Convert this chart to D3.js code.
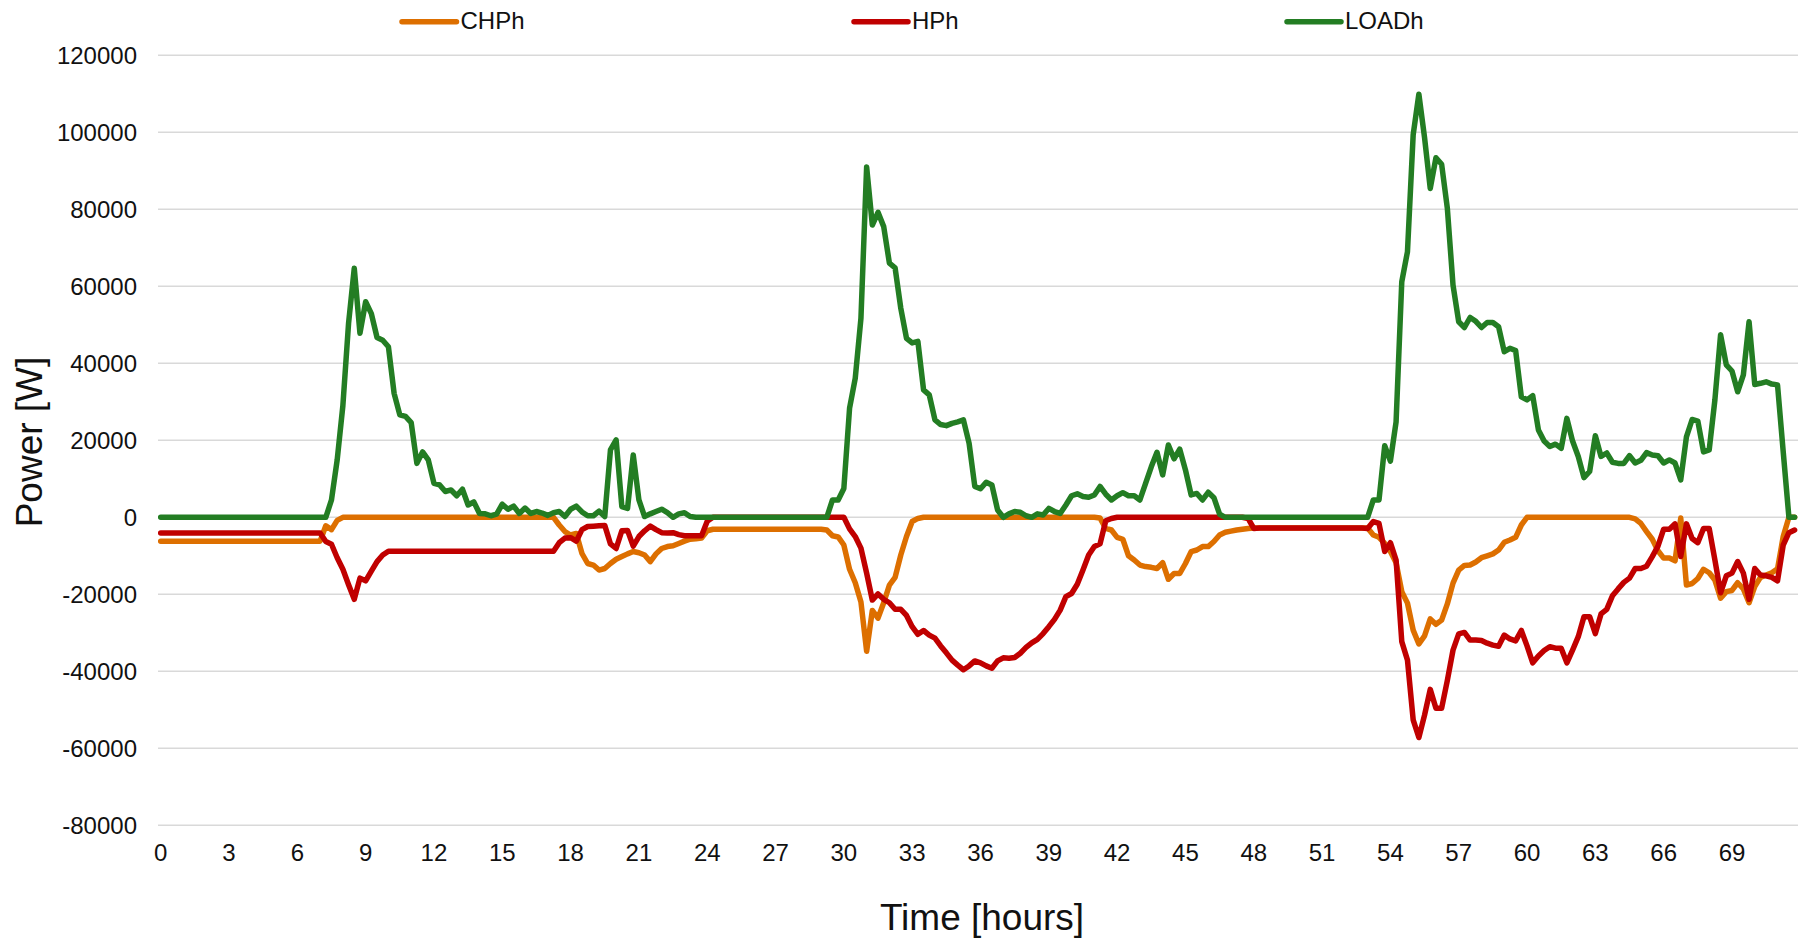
<!DOCTYPE html>
<html>
<head>
<meta charset="utf-8">
<script src="https://cdn.jsdelivr.net/npm/d3@7"></script>
<style>
  html, body { margin: 0; padding: 0; background: #ffffff; }
  svg { display: block; font-family: "Liberation Sans", Arial, sans-serif; }
</style>
</head>
<body>
<svg id="chart" width="1806" height="940"></svg>
<script>
// Quarter-hour time steps over three days (0 .. 71.75 h)
const hours = d3.range(0, 72, 0.25);

// Axis tick labels
const xTicks = [0, 3, 6, 9, 12, 15, 18, 21, 24, 27, 30, 33, 36, 39, 42, 45, 48, 51, 54, 57, 60, 63, 66, 69];
const yTicks = [120000, 100000, 80000, 60000, 40000, 20000, 0, -20000, -40000, -60000, -80000];

// Series names
const seriesNames = ["CHPh", "HPh", "LOADh"];

// CHP heat power [W], one row = 3 hours (12 quarter-hours)
const chph = [
  -6200, -6200, -6200, -6200, -6200, -6200, -6200, -6200, -6200, -6200, -6200, -6200,
  -6200, -6200, -6200, -6200, -6200, -6200, -6200, -6200, -6200, -6200, -6200, -6200,
  -6200, -6200, -6200, -6200, -6200, -2200, -3200, -800, 0, 0, 0, 0,
  0, 0, 0, 0, 0, 0, 0, 0, 0, 0, 0, 0,
  0, 0, 0, 0, 0, 0, 0, 0, 0, 0, 0, 0,
  0, 0, 0, 0, 0, 0, 0, 0, 0, 0, -2000, -3700,
  -4600, -4200, -9400, -12000, -12400, -13700, -13300, -12000, -10900, -10200, -9500, -8900,
  -9200, -9800, -11500, -9500, -8100, -7600, -7400, -6800, -6200, -5700, -5600, -5400,
  -3500, -3100, -3100, -3100, -3100, -3100, -3100, -3100, -3100, -3100, -3100, -3100,
  -3100, -3100, -3100, -3100, -3100, -3100, -3100, -3100, -3100, -3300, -4800, -5100,
  -7200, -13500, -17000, -22000, -34800, -24200, -26200, -22200, -17600, -15600, -9800, -5000,
  -1100, -300, 0, 0, 0, 0, 0, 0, 0, 0, 0, 0,
  0, 0, 0, 0, 0, 0, 0, 0, 0, 0, 0, 0,
  0, 0, 0, 0, 0, 0, 0, 0, 0, -200, -2900, -3300,
  -5200, -5700, -10000, -11100, -12400, -12800, -13000, -13300, -11800, -16100, -14600, -14600,
  -12000, -8900, -8500, -7600, -7600, -6300, -4600, -3900, -3600, -3300, -3100, -2900,
  -2800, -2800, -2800, -2800, -2800, -2800, -2800, -2800, -2800, -2800, -2800, -2800,
  -2800, -2800, -2800, -2800, -2800, -2800, -2800, -2800, -2800, -4600, -5200, -6800,
  -8900, -11800, -19300, -22300, -29300, -32900, -30800, -26400, -27800, -26700, -22500, -17100,
  -13700, -12500, -12400, -11600, -10500, -10000, -9500, -8500, -6500, -5900, -5200, -2000,
  0, 0, 0, 0, 0, 0, 0, 0, 0, 0, 0, 0,
  0, 0, 0, 0, 0, 0, 0, -400, -1600, -3700, -5700, -8700,
  -10600, -10600, -11300, -200, -17600, -17200, -15900, -13500, -14400, -16300, -21000, -19300,
  -19000, -17000, -18600, -22200, -18000, -15600, -15000, -14400, -13400, -5000, 0, 0
];

// Heat pump power [W]
const hph = [
  -4100, -4100, -4100, -4100, -4100, -4100, -4100, -4100, -4100, -4100, -4100, -4100,
  -4100, -4100, -4100, -4100, -4100, -4100, -4100, -4100, -4100, -4100, -4100, -4100,
  -4100, -4100, -4100, -4100, -4100, -6300, -7000, -10500, -13500, -17500, -21300, -15800,
  -16500, -14000, -11500, -9800, -8800, -8800, -8800, -8800, -8800, -8800, -8800, -8800,
  -8800, -8800, -8800, -8800, -8800, -8800, -8800, -8800, -8800, -8800, -8800, -8800,
  -8800, -8800, -8800, -8800, -8800, -8800, -8800, -8800, -8800, -8800, -6600, -5400,
  -5300, -6200, -3200, -2400, -2300, -2200, -2100, -6900, -8100, -3500, -3400, -7500,
  -5000, -3500, -2300, -3200, -4000, -4100, -4000, -4500, -4800, -4800, -4800, -4800,
  -1000, 0, 0, 0, 0, 0, 0, 0, 0, 0, 0, 0,
  0, 0, 0, 0, 0, 0, 0, 0, 0, 0, 0, 0,
  0, -3000, -5000, -8000, -14500, -21500, -19900, -21300, -22200, -23900, -23900, -25500,
  -28400, -30400, -29400, -30600, -31400, -33400, -35200, -37100, -38400, -39600, -38600, -37300,
  -37800, -38600, -39200, -37300, -36500, -36600, -36400, -35300, -33800, -32600, -31700, -30200,
  -28400, -26500, -24100, -20600, -19800, -17400, -13700, -9800, -7600, -6900, -900, -300,
  0, 0, 0, 0, 0, 0, 0, 0, 0, 0, 0, 0,
  0, 0, 0, 0, 0, 0, 0, 0, 0, 0, 0, -300,
  -2900, -2800, -2800, -2800, -2800, -2800, -2800, -2800, -2800, -2800, -2800, -2800,
  -2800, -2800, -2800, -2800, -2800, -2800, -2800, -2800, -2900, -1100, -1600, -8900,
  -6600, -11100, -32300, -37100, -52600, -57200, -51400, -44700, -49600, -49600, -42400, -34500,
  -30300, -29900, -31900, -31900, -32000, -32700, -33200, -33500, -30600, -31600, -32100, -29400,
  -33400, -37800, -36000, -34600, -33600, -34000, -34000, -37800, -34500, -31000, -25800, -25800,
  -30200, -25100, -23900, -20400, -18600, -16900, -15800, -13300, -13300, -12700, -10200, -7500,
  -3100, -3100, -1700, -10200, -1700, -5500, -6600, -2900, -2900, -11100, -19600, -15200,
  -14500, -11500, -14500, -21300, -13300, -15000, -15200, -15600, -16500, -7200, -4000, -3300
];

// Heat load [W]
const loadh = [
  0, 0, 0, 0, 0, 0, 0, 0, 0, 0, 0, 0,
  0, 0, 0, 0, 0, 0, 0, 0, 0, 0, 0, 0,
  0, 0, 0, 0, 0, 0, 4500, 14900, 29000, 50400, 64700, 47800,
  56000, 52900, 46700, 46000, 44300, 32200, 26600, 26200, 24600, 14000, 17000, 14900,
  8800, 8400, 6700, 7100, 5600, 7300, 3200, 4000, 1000, 900, 400, 800,
  3400, 2100, 2900, 1000, 2400, 1000, 1500, 1100, 500, 1200, 1500, 200,
  2100, 2900, 1400, 400, 400, 1600, 200, 17500, 20100, 2800, 2300, 16200,
  4500, 200, 900, 1500, 2100, 1200, 0, 900, 1200, 200, 0, 0,
  0, 0, 0, 0, 0, 0, 0, 0, 0, 0, 0, 0,
  0, 0, 0, 0, 0, 0, 0, 0, 0, 0, 4500, 4500,
  7500, 28300, 36100, 51700, 91000, 75900, 79200, 75500, 66000, 64800, 54300, 46500,
  45300, 45700, 33100, 31800, 25300, 24100, 23800, 24400, 24800, 25300, 19200, 8000,
  7400, 9100, 8400, 1900, 0, 900, 1500, 1300, 400, 0, 900, 600,
  2300, 1500, 1000, 3200, 5600, 6100, 5400, 5200, 5800, 8000, 6000, 4500,
  5600, 6400, 5600, 5600, 4500, 8800, 13100, 16900, 11000, 18800, 15200, 17700,
  12300, 5800, 6200, 4500, 6500, 5100, 800, 0, 0, 0, 0, 0,
  0, 0, 0, 0, 0, 0, 0, 0, 0, 0, 0, 0,
  0, 0, 0, 0, 0, 0, 0, 0, 0, 4500, 4500, 18600,
  14600, 24800, 61200, 69000, 99300, 109900, 98600, 85400, 93400, 91700, 80300, 60300,
  50800, 49300, 51900, 50900, 49300, 50600, 50600, 49500, 43000, 43900, 43300, 31300,
  30500, 31600, 22700, 19800, 18400, 19000, 17900, 25700, 19800, 15800, 10300, 11900,
  21200, 15800, 16700, 14300, 14000, 14000, 16000, 14100, 14800, 16800, 16200, 16000,
  14100, 14900, 14100, 9700, 20900, 25400, 25000, 17000, 17500, 30500, 47400, 39600,
  38000, 32600, 37000, 50800, 34500, 34800, 35200, 34600, 34400, 17000, 0, 0
];

const colors = { CHPh: "#DD6F00", HPh: "#C00000", LOADh: "#237D23" };
const valuesByName = { CHPh: chph, HPh: hph, LOADh: loadh };

const svg = d3.select("#chart");
svg.append("rect").attr("width", 1806).attr("height", 940).attr("fill", "#ffffff");

const plot = { left: 158, right: 1798 };
const x = d3.scaleLinear().domain([0, 71.75]).range([160.7, 1794.6]);
const y = d3.scaleLinear().domain([-80000, 120000]).range([825.3, 55.3]);

// Horizontal gridlines
svg.append("g")
  .selectAll("line")
  .data(yTicks)
  .join("line")
  .attr("x1", plot.left)
  .attr("x2", plot.right)
  .attr("y1", d => y(d))
  .attr("y2", d => y(d))
  .attr("stroke", "#D9D9D9")
  .attr("stroke-width", 1.6);

// Y tick labels
svg.append("g")
  .selectAll("text")
  .data(yTicks)
  .join("text")
  .attr("x", 137)
  .attr("y", d => y(d))
  .attr("dy", "0.35em")
  .attr("text-anchor", "end")
  .attr("font-size", "24px")
  .attr("fill", "#111111")
  .text(d => String(d));

// X tick labels
svg.append("g")
  .selectAll("text")
  .data(xTicks)
  .join("text")
  .attr("x", d => x(d))
  .attr("y", 861)
  .attr("text-anchor", "middle")
  .attr("font-size", "24px")
  .attr("fill", "#111111")
  .text(d => String(d));

// Axis titles
svg.append("text")
  .attr("transform", "translate(41.5,442) rotate(-90)")
  .attr("text-anchor", "middle")
  .attr("font-size", "37px")
  .attr("fill", "#111111")
  .text("Power [W]");

svg.append("text")
  .attr("x", 982)
  .attr("y", 930)
  .attr("text-anchor", "middle")
  .attr("font-size", "37px")
  .attr("fill", "#111111")
  .text("Time [hours]");

// Series lines: CHPh, then HPh, then LOADh on top
const line = d3.line()
  .x((d, i) => x(hours[i]))
  .y(d => y(d));

svg.append("g")
  .selectAll("path")
  .data(seriesNames)
  .join("path")
  .attr("d", name => line(valuesByName[name]))
  .attr("fill", "none")
  .attr("stroke", name => colors[name])
  .attr("stroke-width", 5.5)
  .attr("stroke-linejoin", "round")
  .attr("stroke-linecap", "round");

// Legend
const legendItems = [
  { name: "CHPh", x1: 402, x2: 456.5 },
  { name: "HPh", x1: 854, x2: 908 },
  { name: "LOADh", x1: 1287, x2: 1341 }
];
const legend = svg.append("g");
legend.selectAll("line")
  .data(legendItems)
  .join("line")
  .attr("x1", d => d.x1)
  .attr("x2", d => d.x2)
  .attr("y1", 21.7)
  .attr("y2", 21.7)
  .attr("stroke", d => colors[d.name])
  .attr("stroke-width", 5.5)
  .attr("stroke-linecap", "round");
legend.selectAll("text")
  .data(legendItems)
  .join("text")
  .attr("x", d => d.x2 + 4)
  .attr("y", 20.5)
  .attr("dy", "0.35em")
  .attr("font-size", "24px")
  .attr("fill", "#111111")
  .text(d => d.name);
</script>
</body>
</html>
